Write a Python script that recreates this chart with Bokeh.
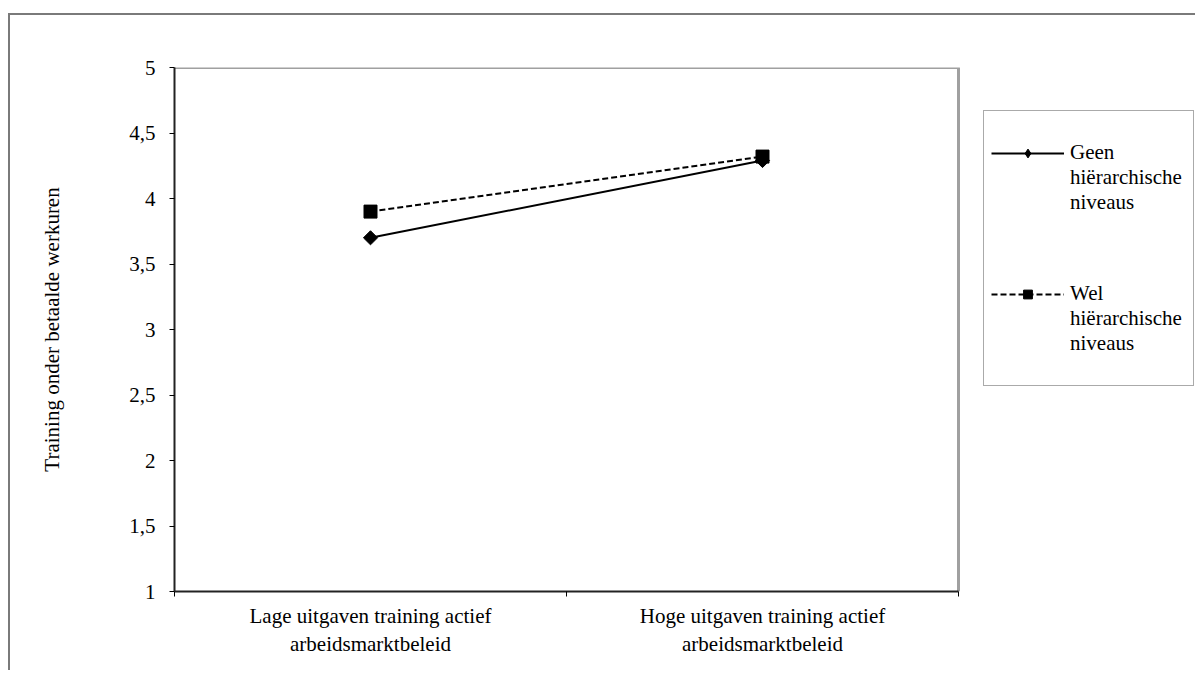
from bokeh.plotting import figure
from bokeh.models import FixedTicker, Legend, LegendItem, Range1d
from bokeh.embed import file_html
from bokeh.resources import INLINE

# ---- data ----
categories = ["Lage uitgaven training actief\narbeidsmarktbeleid",
              "Hoge uitgaven training actief\narbeidsmarktbeleid"]
geen_values = [3.70, 4.29]
wel_values = [3.90, 4.32]
series_names = [["Geen", "hiërarchische", "niveaus"], ["Wel", "hiërarchische", "niveaus"]]
y_ticks = [1, 1.5, 2, 2.5, 3, 3.5, 4, 4.5, 5]
y_tick_labels = ["1", "1,5", "2", "2,5", "3", "3,5", "4", "4,5", "5"]
y_label = "Training onder betaalde werkuren"

FONT = "Liberation Serif"
FS = "21px"

# ---- layout (pixels) ----
PLOT_W, PLOT_H = 1187, 657
FRAME_L, FRAME_T, FRAME_B = 164, 52, 81      # borders of the plotting frame
AREA_W = 784                                 # visible plot-area width inside the frame
frame_w = PLOT_W - FRAME_L

n = len(categories)
xs = [i + 0.5 for i in range(n)]
boundaries = [float(i) for i in range(n + 1)]
x_end = n * frame_w / AREA_W
y0, y1 = y_ticks[0], y_ticks[-1]

p = figure(width=PLOT_W, height=PLOT_H, output_backend="svg", toolbar_location=None,
           x_range=Range1d(0, x_end), y_range=Range1d(y0, y1),
           min_border_left=FRAME_L, min_border_top=FRAME_T, min_border_right=0,
           min_border_bottom=FRAME_B)
p.styles = {"border-top": "2px solid #7a7a7a", "border-left": "2px solid #7a7a7a",
            "margin-top": "13px", "margin-left": "8px"}

p.xgrid.visible = False
p.ygrid.visible = False
p.outline_line_color = None
p.background_fill_color = "white"
p.border_fill_color = "white"

# plot-area border (top and right, grey)
p.line([0, n, n], [y1, y1, y0], line_color="#a0a0a0", line_width=3)

# x axis
p.xaxis.bounds = (0, n)
p.xaxis.ticker = FixedTicker(ticks=xs, minor_ticks=boundaries)
p.xaxis.major_label_overrides = {x: c for x, c in zip(xs, categories)}
p.xaxis.major_tick_out = 0
p.xaxis.major_tick_in = 0
p.xaxis.minor_tick_out = 5
p.xaxis.minor_tick_in = 0
p.xaxis.minor_tick_line_color = "black"
p.xaxis.axis_line_color = "#222222"
p.xaxis.axis_line_width = 2
p.xaxis.major_label_text_font = FONT
p.xaxis.major_label_text_font_size = FS
p.xaxis.major_label_text_color = "black"
p.xaxis.major_label_standoff = 7

# y axis
p.yaxis.ticker = FixedTicker(ticks=y_ticks, minor_ticks=[])
p.yaxis.major_label_overrides = {t: l for t, l in zip(y_ticks, y_tick_labels)}
p.yaxis.major_tick_out = 5
p.yaxis.major_tick_in = 0
p.yaxis.major_tick_line_color = "black"
p.yaxis.axis_line_color = "#222222"
p.yaxis.axis_line_width = 2
p.yaxis.major_label_text_font = FONT
p.yaxis.major_label_text_font_size = FS
p.yaxis.major_label_text_color = "black"
p.yaxis.major_label_standoff = 14
p.yaxis.axis_label = y_label
p.yaxis.axis_label_text_font = FONT
p.yaxis.axis_label_text_font_size = FS
p.yaxis.axis_label_text_font_style = "normal"
p.yaxis.axis_label_text_color = "black"
p.yaxis.axis_label_standoff = 62

# series
gl = p.line(xs, geen_values, line_color="black", line_width=2)
gm = p.scatter(xs, geen_values, marker="square", angle=0.785398, size=10,
               fill_color="black", line_color="black")
wl = p.line(xs, wel_values, line_color="black", line_width=2, line_dash="6 3")
wm = p.scatter(xs, wel_values, marker="square", size=13,
               fill_color="black", line_color="black")
# hidden diamond renderer: gives the legend its diamond symbol
gd = p.scatter(xs, geen_values, marker="diamond", size=12,
               fill_color="black", line_color="black", visible=False)

# invisible renderer used for the text-only legend rows
blank = p.line(xs, geen_values, line_alpha=0)

def blank_row():
    return LegendItem(label="", renderers=[blank])

rows = [blank_row()]
for gi, (name, rs) in enumerate(zip(series_names, [[gl, gd], [wl, wm]])):
    rows.append(LegendItem(label=name[0], renderers=rs))
    for extra in name[1:]:
        rows.append(LegendItem(label=extra, renderers=[blank]))
    if gi == 0:
        rows += [blank_row(), blank_row(), blank_row()]
rows.append(blank_row())

legend = Legend(items=rows, location=(809, 205), orientation="vertical",
                label_text_font=FONT, label_text_font_size=FS, label_text_color="black",
                label_height=22, label_width=116, glyph_width=73, glyph_height=22,
                label_standoff=6, spacing=0, padding=7, margin=0,
                border_line_color="#555555", border_line_width=1,
                background_fill_color="white", background_fill_alpha=1.0,
                inactive_fill_alpha=0.0)
p.add_layout(legend, "center")

open("out.html", "w").write(file_html(p, INLINE))
